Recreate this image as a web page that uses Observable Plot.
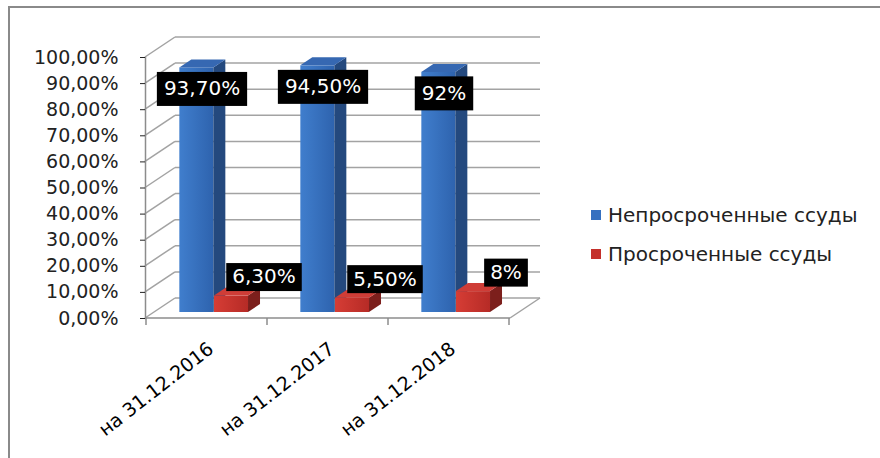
<!DOCTYPE html>
<html><head><meta charset="utf-8">
<script src="https://cdn.jsdelivr.net/npm/d3@7"></script>
<script src="https://cdn.jsdelivr.net/npm/@observablehq/plot@0.6"></script>
<style>
body{margin:0;background:#fff;}
#wrap{position:relative;width:880px;height:458px;overflow:hidden;font-family:"DejaVu Sans",sans-serif;background:#fff;}
#border{position:absolute;left:8px;top:6px;width:900px;height:500px;border-left:2px solid #8a8a8a;border-top:2px solid #8a8a8a;pointer-events:none;}
#chart{position:absolute;left:0;top:0;}
#legend{position:absolute;left:591px;top:202px;font-size:20px;color:#222;white-space:nowrap;}
.item{display:flex;align-items:center;height:26px;margin-bottom:13px;}
.sw{width:10px;height:10px;margin-right:7px;flex:none;}
</style></head><body>
<div id="wrap"><div id="chart"></div><div id="border"></div><div id="legend"></div></div>
<script>
// ---- data ----
const dates = ["на 31.12.2016", "на 31.12.2017", "на 31.12.2018"];
const seriesNames = ["Непросроченные ссуды", "Просроченные ссуды"];
const notOverdue = [93.7, 94.5, 92];
const overdue = [6.3, 5.5, 8];
const notOverdueLabels = ["93,70%", "94,50%", "92%"];
const overdueLabels = ["6,30%", "5,50%", "8%"];
const yTicks = [0, 10, 20, 30, 40, 50, 60, 70, 80, 90, 100];

const blueRows = dates.map((d, i) => ({date: d, value: notOverdue[i], label: notOverdueLabels[i]}));
const redRows = dates.map((d, i) => ({date: d, value: overdue[i], label: overdueLabels[i]}));

// ---- style ----
const DX = 30, DY = -20;           // wall depth
const BDX = 12, BDY = -8;          // bar depth
const W = 880, H = 458, ML = 145, MR = 370, MT = 57, MB = 140;
const BW = (W - ML - MR) / dates.length;
const colors = {
  blue: {side: "#24497e", top: "#3668b2"},
  red: {side: "#7c1f1c", top: "#cf3d37"}
};
const NS = "http://www.w3.org/2000/svg";

function faces(c) {
  return function(index, scales, values, dims, ctx, next) {
    const g = next(index, scales, values, dims, ctx);
    for (const r of Array.from(g.querySelectorAll("rect"))) {
      const x = +r.getAttribute("x"), y = +r.getAttribute("y");
      const w = +r.getAttribute("width"), h = +r.getAttribute("height");
      const side = document.createElementNS(NS, "polygon");
      side.setAttribute("points", `${x+w},${y} ${x+w+BDX},${y+BDY} ${x+w+BDX},${y+h+BDY} ${x+w},${y+h}`);
      side.setAttribute("fill", c.side);
      const top = document.createElementNS(NS, "polygon");
      top.setAttribute("points", `${x},${y} ${x+BDX},${y+BDY} ${x+w+BDX},${y+BDY} ${x+w},${y}`);
      top.setAttribute("fill", c.top);
      g.appendChild(side);
      g.appendChild(top);
    }
    return g;
  };
}

const measureCtx = document.createElement("canvas").getContext("2d");
function boxed(fontSize, padX, boxH) {
  return function(index, scales, values, dims, ctx, next) {
    const g = next(index, scales, values, dims, ctx);
    measureCtx.font = `${fontSize}px "DejaVu Sans"`;
    for (const t of Array.from(g.querySelectorAll("text"))) {
      const w = measureCtx.measureText(t.textContent).width;
      const r = document.createElementNS(NS, "rect");
      r.setAttribute("x", -w / 2 - padX);
      r.setAttribute("y", -boxH / 2);
      r.setAttribute("width", w + 2 * padX);
      r.setAttribute("height", boxH);
      r.setAttribute("fill", "#000");
      r.setAttribute("stroke", "none");
      const tr = t.getAttribute("transform");
      if (tr) r.setAttribute("transform", tr);
      g.insertBefore(r, t);
    }
    return g;
  };
}

const wall = Plot.ruleY(yTicks, {
  y: d => d,
  render(index, scales, values, dims) {
    const L = dims.marginLeft, R = dims.width - dims.marginRight;
    const g = d3.create("svg:g");
    const gs = "#a3a3a3";
    for (const i of index) {
      const y = values.y[i];
      g.append("line").attr("x1", L).attr("y1", y).attr("x2", L + DX).attr("y2", y + DY)
        .attr("stroke", gs).attr("stroke-width", 1.5);
      g.append("line").attr("x1", L + DX).attr("y1", y + DY).attr("x2", R + DX).attr("y2", y + DY)
        .attr("stroke", gs).attr("stroke-width", 1.5);
    }
    const y0 = scales.y(0);
    g.append("line").attr("x1", L).attr("y1", y0).attr("x2", R).attr("y2", y0).attr("stroke", "#8c8c8c").attr("stroke-width", 1.5);
    g.append("line").attr("x1", R).attr("y1", y0).attr("x2", R + DX).attr("y2", y0 + DY).attr("stroke", gs).attr("stroke-width", 1.5);
    const sx = scales.x;
    let bw = typeof sx.bandwidth === "function" ? sx.bandwidth() : sx.bandwidth;
    if (!bw) bw = (R - L) / dates.length;
    const xs = dates.map(d => sx(d)).concat([sx(dates[dates.length - 1]) + bw]);
    for (const x of xs) {
      g.append("line").attr("x1", x).attr("y1", y0).attr("x2", x).attr("y2", y0 + 7).attr("stroke", "#8c8c8c").attr("stroke-width", 1.5);
    }
    return g.node();
  }
});

const fmtPct = d => d.toFixed(2).replace(".", ",") + "%";

const chart = Plot.plot({
  width: W, height: H,
  marginLeft: ML, marginRight: MR, marginTop: MT, marginBottom: MB,
  style: {fontFamily: "DejaVu Sans", overflow: "visible", background: "transparent"},
  x: {type: "band", domain: dates, padding: 0, axis: null},
  y: {domain: [0, 100]},
  marks: [
    wall,
    Plot.frame({anchor: "left", stroke: "#8c8c8c", strokeWidth: 1.5}),
    Plot.axisY({ticks: yTicks, tickFormat: fmtPct, tickSize: 5, tickPadding: 22, fontSize: 19, color: "#222", label: null}),
    Plot.barY(blueRows, {x: "date", y: "value", insetLeft: 0.2 * BW, insetRight: (1 - 0.485) * BW, dx: 9, dy: -6, fill: "url(#gBlue)", render: faces(colors.blue)}),
    Plot.barY(redRows, {x: "date", y: "value", insetLeft: 0.485 * BW, insetRight: (1 - 0.77) * BW, dx: 9, dy: -6, fill: "url(#gRed)", render: faces(colors.red)}),
    Plot.text(blueRows, {x: "date", y: "value", text: "label", dx: -5, dy: 15, fontSize: 20, fill: "white", render: boxed(20, 7, 34)}),
    Plot.text(redRows, {x: "date", y: "value", text: "label", dx: 57, dy: -25, fontSize: 20, fill: "white", render: boxed(20, 6, 28)}),
    Plot.text(dates, {x: d => d, frameAnchor: "bottom", text: d => d, rotate: -38, textAnchor: "end", lineAnchor: "middle", dx: 4, dy: 28, fontSize: 19, fill: "#000"})
  ]
});

document.getElementById("chart").appendChild(chart);

// gradients
const defs = d3.select(chart).insert("defs", ":first-child");
function grad(id, a, b) {
  const lg = defs.append("linearGradient").attr("id", id).attr("x1", 0).attr("x2", 1).attr("y1", 0).attr("y2", 0);
  lg.append("stop").attr("offset", "0%").attr("stop-color", a);
  lg.append("stop").attr("offset", "100%").attr("stop-color", b);
}
grad("gBlue", "#407ecd", "#2e63ae");
grad("gRed", "#d63d35", "#b62b26");

// legend
const legendColors = ["#3570c0", "#c4302b"];
const legend = d3.select("#legend");
seriesNames.forEach((name, i) => {
  const it = legend.append("div").attr("class", "item");
  it.append("div").attr("class", "sw").style("background", legendColors[i]);
  it.append("span").text(name);
});
</script>
</body></html>
